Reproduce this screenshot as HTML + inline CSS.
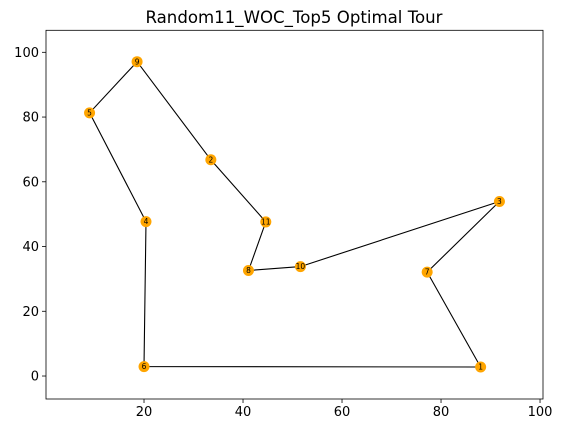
<!DOCTYPE html>
<html><head><meta charset="utf-8"><style>
body{margin:0;background:#fff;}
svg{display:block;font-family:"DejaVu Sans","Liberation Sans",sans-serif;}
</style></head><body>
<svg id="chart" width="563" height="433">
<text x="294" y="23" text-anchor="middle" font-size="16.6">Random11_WOC_Top5 Optimal Tour</text>
<g id="plot"></g>
</svg>
<script>
const cityIds=[1,2,3,4,5,6,7,8,9,10,11];
const cityX=[88.0,33.5,91.8,20.4,9.0,20.0,77.2,41.1,18.6,51.6,44.6];
const cityY=[2.8,66.8,53.9,47.7,81.3,2.9,32.1,32.6,97.1,33.8,47.6];
const tourOrder=[1,7,3,10,8,11,2,9,5,4,6,1];
const xTicks=[20,40,60,80,100];
const yTicks=[0,20,40,60,80,100];
const L=46,R=543,T=30.3,B=399;
const xMin=0.2,xMax=100.6,yMin=-7.1,yMax=106.8;
const sx=v=>L+(v-xMin)/(xMax-xMin)*(R-L);
const sy=v=>B-(v-yMin)/(yMax-yMin)*(B-T);
const NS="http://www.w3.org/2000/svg";
const g=document.getElementById('plot');
function mk(t,a){const e=document.createElementNS(NS,t);for(const k in a)e.setAttribute(k,a[k]);g.appendChild(e);return e;}
xTicks.forEach(v=>{
 const l=mk('line',{x1:sx(v),x2:sx(v),y1:B,y2:B+4,stroke:'#000','stroke-width':0.8});
 
 
 const t=mk('text',{x:sx(v),y:B+17,'text-anchor':'middle','font-size':13});
 t.textContent=v;
 
 
});
yTicks.forEach(v=>{
 const l=mk('line',{x1:L-4,x2:L,y1:sy(v),y2:sy(v),stroke:'#000','stroke-width':0.8});
 
 
 const t=mk('text',{x:L-7,y:sy(v)+4.5,'text-anchor':'end','font-size':13});
 t.textContent=v;
 
 
});
const pts=tourOrder.map(id=>{const i=cityIds.indexOf(id);return sx(cityX[i]).toFixed(1)+','+sy(cityY[i]).toFixed(1);});
const pl=mk('polyline',{points:pts.join(' '),fill:'none',stroke:'#000','stroke-width':1.1});


cityIds.forEach((id,i)=>{
 const c=mk('circle',{cx:sx(cityX[i]),cy:sy(cityY[i]),r:5.5,fill:'#ffa500'});
 
 
 const t=mk('text',{x:sx(cityX[i]),y:sy(cityY[i])+2.6,'text-anchor':'middle','font-size':7.5});
 t.textContent=id;
 
 
});
const fr=mk('rect',{x:L,y:T,width:R-L,height:B-T,fill:'none',stroke:'#000','stroke-width':0.8});


</script>
</body></html>
